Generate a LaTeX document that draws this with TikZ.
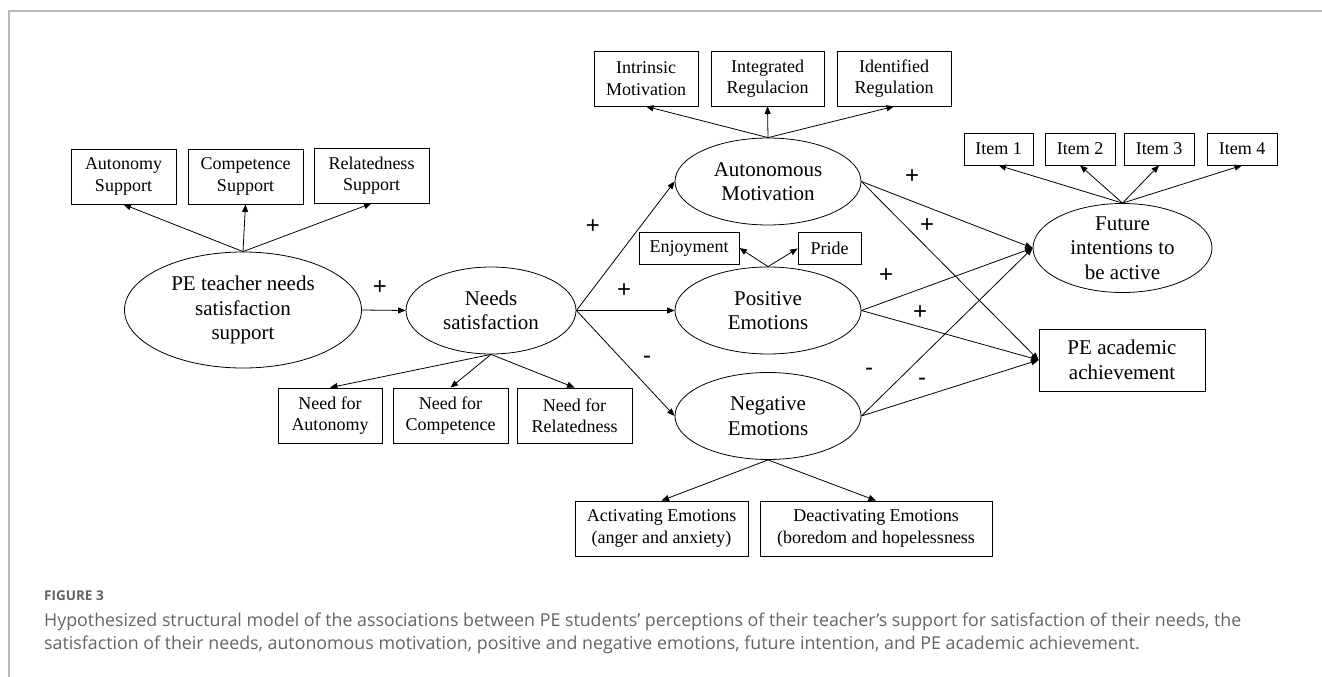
\documentclass[tikz,border=0pt]{standalone}
\usepackage{fontspec}
\setmainfont{Liberation Serif}
\newfontfamily\capfont{Open Sans}
\newfontfamily\signfont{Liberation Sans}
\usetikzlibrary{arrows.meta,shapes.geometric}
\definecolor{capgray}{RGB}{100,100,100}
\definecolor{framegray}{RGB}{185,185,185}
\tikzset{
  bx/.style={draw, line width=0.8pt, inner sep=0pt, align=center, font=\fontsize{18}{21.5}\selectfont},
  sbx/.style={bx, minimum height=32pt},
  el/.style={draw, ellipse, line width=0.8pt, inner sep=0pt, align=center, font=\fontsize{21}{24.5}\selectfont},
  arr/.style={-{Triangle[length=7.5pt,width=6pt]}, line width=0.8pt},
  sign/.style={font=\signfont\fontsize{24}{24}\selectfont, inner sep=0pt},
  captext/.style={anchor=base west, inner sep=0pt, text=capgray, font=\capfont\fontsize{17.8}{23}\selectfont},
}
\begin{document}
\begin{tikzpicture}[x=1pt,y=-1pt]
\useasboundingbox (0,0) rectangle (1322,677);
\draw[framegray, line width=1.5pt] (9,677) -- (9,11) -- (1322,11);

% left block
\node[bx, minimum width=105pt, minimum height=55pt] (as) at (123.5,176.5) {Autonomy\\Support};
\node[bx, minimum width=115pt, minimum height=55pt] (cs) at (245.5,176.5) {Competence\\Support};
\node[bx, minimum width=115pt, minimum height=55pt] (rs) at (371.5,175.5) {Relatedness\\Support};
\node[el, minimum width=237pt, minimum height=116pt] (pet) at (243,310) {PE teacher needs\\satisfaction\\support};

\node[el, minimum width=170pt, minimum height=87pt] (ns) at (491,310.5) {Needs\\satisfaction};
\node[bx, minimum width=104pt, minimum height=55pt] (nfa) at (330,415.5) {Need for\\Autonomy};
\node[bx, minimum width=115pt, minimum height=55pt] (nfc) at (450.5,415.5) {Need for\\Competence};
\node[bx, minimum width=115pt, minimum height=55pt] (nfr) at (574.5,415.5) {Need for\\Relatedness};

% middle block
\node[bx, minimum width=104pt, minimum height=55pt] (im) at (646,78.5) {Intrinsic\\Motivation};
\node[bx, minimum width=113pt, minimum height=55pt] (ir) at (767.5,78.5) {Integrated\\Regulacion};
\node[bx, minimum width=114pt, minimum height=55pt] (idr) at (894,78.5) {Identified\\Regulation};
\node[el, minimum width=186pt, minimum height=87pt] (am) at (768,181.5) {Autonomous\\Motivation};

\node[sbx, minimum width=100pt] (enj) at (689,248) {Enjoyment};
\node[sbx, minimum width=63pt] (pri) at (829.5,248.5) {Pride};
\node[el, minimum width=186pt, minimum height=87pt] (pe) at (768,310.5) {Positive\\Emotions};

\node[el, minimum width=186pt, minimum height=87pt] (ne) at (768,416) {Negative\\Emotions};
\node[bx, minimum width=173pt, minimum height=55pt] (act) at (661.5,528.5) {Activating Emotions\\(anger and anxiety)};
\node[bx, minimum width=232pt, minimum height=55pt] (dea) at (876,528.5) {Deactivating Emotions\\(boredom and hopelessness};

% right block
\node[sbx, minimum width=69pt] (i1) at (998.5,149) {Item 1};
\node[sbx, minimum width=70pt] (i2) at (1080,149) {Item 2};
\node[sbx, minimum width=70pt] (i3) at (1159,149) {Item 3};
\node[sbx, minimum width=70pt] (i4) at (1242,149) {Item 4};
\node[el, minimum width=179pt, minimum height=88pt] (fi) at (1122.5,248) {Future\\intentions to\\be active};
\node[bx, minimum width=166pt, minimum height=62pt, font=\fontsize{21}{24.5}\selectfont] (pa) at (1122,360) {PE academic\\achievement};

% connectors
\draw[arr] (pet.north) -- (as.south);
\draw[arr] (pet.north) -- (cs.south);
\draw[arr] (pet.north) -- (rs.south);
\draw[arr] (pet.east) -- (ns.west);
\draw[arr] (ns.south) -- (nfa.north);
\draw[arr] (ns.south) -- (nfc.north);
\draw[arr] (ns.south) -- (nfr.north);
\draw[arr] (ns.east) -- (am.west);
\draw[arr] (ns.east) -- (pe.west);
\draw[arr] (ns.east) -- (ne.west);
\draw[arr] (am.north) -- (im.south);
\draw[arr] (am.north) -- (ir.south);
\draw[arr] (am.north) -- (idr.south);
\draw[arr] (pe.north) -- (enj.east);
\draw[arr] (pe.north) -- (pri.west);
\draw[arr] (ne.south) -- (act.north);
\draw[arr] (ne.south) -- (dea.north);
\draw[arr] (fi.north) -- (i1.south);
\draw[arr] (fi.north) -- (i2.south);
\draw[arr] (fi.north) -- (i3.south);
\draw[arr] (fi.north) -- (i4.south);
\draw[arr] (am.east) -- (fi.west);
\draw[arr] (am.east) -- (pa.west);
\draw[arr] (pe.east) -- (fi.west);
\draw[arr] (pe.east) -- (pa.west);
\draw[arr] (ne.east) -- (fi.west);
\draw[arr] (ne.east) -- (pa.west);

% signs
\node[sign] (s1) at (380,288) {+};
\node[sign] (s2) at (593,227) {+};
\node[sign] (s3) at (624,291) {+};
\node[sign] (s4) at (647,360) {-};
\node[sign] (s5) at (912,177) {+};
\node[sign] (s6) at (927,226) {+};
\node[sign] (s7) at (886,276) {+};
\node[sign] (s8) at (920,313) {+};
\node[sign] (s9) at (869,372) {-};
\node[sign] (s10) at (922,382) {-};

% caption
\node[captext, font=\capfont\bfseries\fontsize{13.5}{15}\selectfont] (fig) at (44,600) {FIGURE 3};
\node[captext] (c1) at (44,626) {Hypothesized structural model of the associations between PE students’ perceptions of their teacher’s support for satisfaction of their needs, the};
\node[captext] (c2) at (44,649) {satisfaction of their needs, autonomous motivation, positive and negative emotions, future intention, and PE academic achievement.};
\end{tikzpicture}
\end{document}
